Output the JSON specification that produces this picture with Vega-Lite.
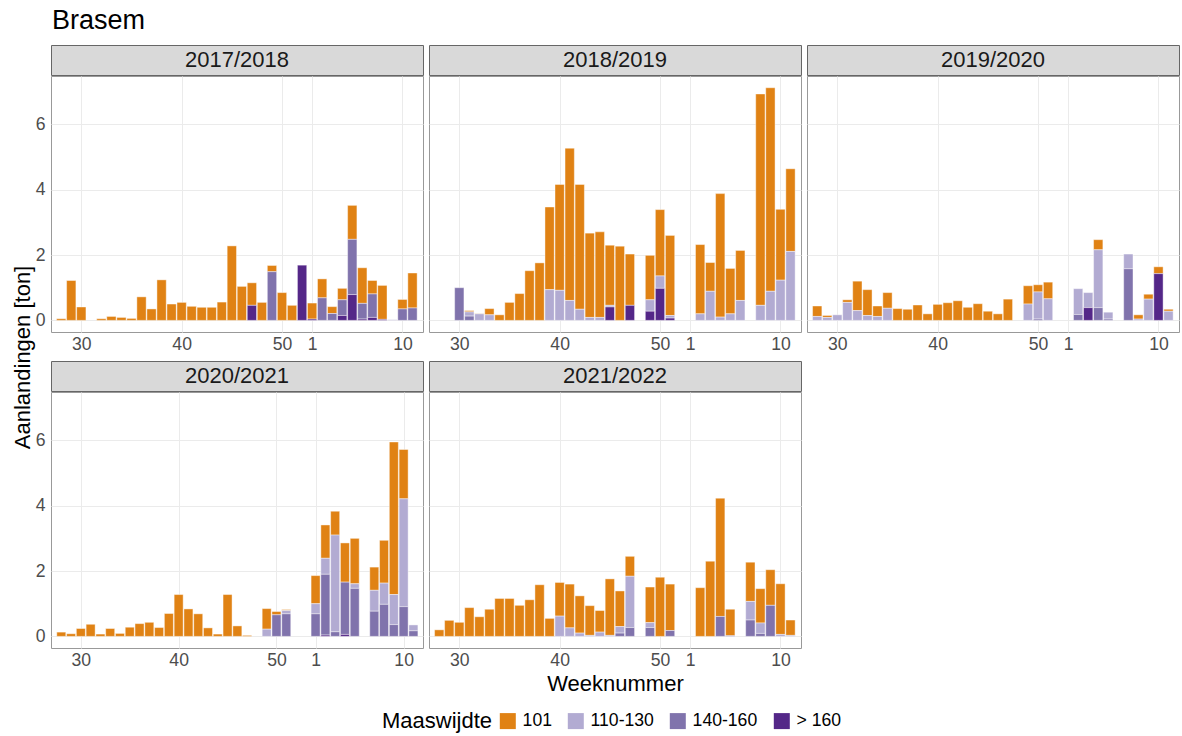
{
"$schema": "https://vega.github.io/schema/vega-lite/v6.json",
"background": "white",
"padding": {"left": 12, "top": 6, "right": 2, "bottom": 5},
"title": {"text": "Brasem", "anchor": "start", "fontSize": 27, "fontWeight": "normal", "color": "#000000", "offset": 10, "dx": 40},
"datasets": {"d": [
{"season":"2017/2018","week":28,"maas":"101","ton":0.05},
{"season":"2017/2018","week":29,"maas":"101","ton":1.22},
{"season":"2017/2018","week":30,"maas":"101","ton":0.41},
{"season":"2017/2018","week":32,"maas":"101","ton":0.05},
{"season":"2017/2018","week":33,"maas":"101","ton":0.12},
{"season":"2017/2018","week":34,"maas":"101","ton":0.09},
{"season":"2017/2018","week":35,"maas":"101","ton":0.06},
{"season":"2017/2018","week":36,"maas":"101","ton":0.72},
{"season":"2017/2018","week":37,"maas":"101","ton":0.35},
{"season":"2017/2018","week":38,"maas":"101","ton":1.24},
{"season":"2017/2018","week":39,"maas":"101","ton":0.50},
{"season":"2017/2018","week":40,"maas":"101","ton":0.55},
{"season":"2017/2018","week":41,"maas":"101","ton":0.43},
{"season":"2017/2018","week":42,"maas":"101","ton":0.40},
{"season":"2017/2018","week":43,"maas":"101","ton":0.40},
{"season":"2017/2018","week":44,"maas":"101","ton":0.56},
{"season":"2017/2018","week":45,"maas":"101","ton":2.28},
{"season":"2017/2018","week":46,"maas":"101","ton":1.04},
{"season":"2017/2018","week":47,"maas":"101","ton":0.69},
{"season":"2017/2018","week":47,"maas":"> 160","ton":0.46},
{"season":"2017/2018","week":48,"maas":"101","ton":0.55},
{"season":"2017/2018","week":49,"maas":"101","ton":0.19},
{"season":"2017/2018","week":49,"maas":"140-160","ton":1.49},
{"season":"2017/2018","week":50,"maas":"101","ton":0.85},
{"season":"2017/2018","week":51,"maas":"101","ton":0.46},
{"season":"2017/2018","week":52,"maas":"> 160","ton":1.69},
{"season":"2017/2018","week":1,"maas":"101","ton":0.49},
{"season":"2017/2018","week":1,"maas":"> 160","ton":0.04},
{"season":"2017/2018","week":2,"maas":"101","ton":0.58},
{"season":"2017/2018","week":2,"maas":"140-160","ton":0.69},
{"season":"2017/2018","week":3,"maas":"101","ton":0.21},
{"season":"2017/2018","week":3,"maas":"140-160","ton":0.21},
{"season":"2017/2018","week":4,"maas":"101","ton":0.35},
{"season":"2017/2018","week":4,"maas":"140-160","ton":0.48},
{"season":"2017/2018","week":4,"maas":"> 160","ton":0.15},
{"season":"2017/2018","week":5,"maas":"101","ton":1.04},
{"season":"2017/2018","week":5,"maas":"140-160","ton":1.69},
{"season":"2017/2018","week":5,"maas":"> 160","ton":0.79},
{"season":"2017/2018","week":6,"maas":"101","ton":1.09},
{"season":"2017/2018","week":6,"maas":"140-160","ton":0.48},
{"season":"2017/2018","week":6,"maas":"> 160","ton":0.04},
{"season":"2017/2018","week":7,"maas":"101","ton":0.41},
{"season":"2017/2018","week":7,"maas":"140-160","ton":0.72},
{"season":"2017/2018","week":7,"maas":"> 160","ton":0.09},
{"season":"2017/2018","week":8,"maas":"101","ton":1.04},
{"season":"2017/2018","week":8,"maas":"> 160","ton":0.03},
{"season":"2017/2018","week":9,"maas":"110-130","ton":0.02},
{"season":"2017/2018","week":10,"maas":"101","ton":0.29},
{"season":"2017/2018","week":10,"maas":"140-160","ton":0.35},
{"season":"2017/2018","week":11,"maas":"101","ton":1.07},
{"season":"2017/2018","week":11,"maas":"140-160","ton":0.38},
{"season":"2018/2019","week":30,"maas":"140-160","ton":1.00},
{"season":"2018/2019","week":31,"maas":"101","ton":0.04},
{"season":"2018/2019","week":31,"maas":"110-130","ton":0.13},
{"season":"2018/2019","week":31,"maas":"140-160","ton":0.13},
{"season":"2018/2019","week":32,"maas":"101","ton":0.01},
{"season":"2018/2019","week":32,"maas":"110-130","ton":0.20},
{"season":"2018/2019","week":33,"maas":"101","ton":0.19},
{"season":"2018/2019","week":33,"maas":"110-130","ton":0.17},
{"season":"2018/2019","week":34,"maas":"101","ton":0.17},
{"season":"2018/2019","week":35,"maas":"101","ton":0.55},
{"season":"2018/2019","week":36,"maas":"101","ton":0.82},
{"season":"2018/2019","week":37,"maas":"101","ton":1.52},
{"season":"2018/2019","week":38,"maas":"101","ton":1.76},
{"season":"2018/2019","week":39,"maas":"101","ton":2.53},
{"season":"2018/2019","week":39,"maas":"110-130","ton":0.94},
{"season":"2018/2019","week":40,"maas":"101","ton":3.24},
{"season":"2018/2019","week":40,"maas":"110-130","ton":0.92},
{"season":"2018/2019","week":41,"maas":"101","ton":4.66},
{"season":"2018/2019","week":41,"maas":"110-130","ton":0.61},
{"season":"2018/2019","week":42,"maas":"101","ton":3.82},
{"season":"2018/2019","week":42,"maas":"110-130","ton":0.34},
{"season":"2018/2019","week":43,"maas":"101","ton":2.58},
{"season":"2018/2019","week":43,"maas":"110-130","ton":0.09},
{"season":"2018/2019","week":44,"maas":"101","ton":2.62},
{"season":"2018/2019","week":44,"maas":"110-130","ton":0.09},
{"season":"2018/2019","week":45,"maas":"101","ton":1.84},
{"season":"2018/2019","week":45,"maas":"110-130","ton":0.05},
{"season":"2018/2019","week":45,"maas":"> 160","ton":0.41},
{"season":"2018/2019","week":46,"maas":"101","ton":2.27},
{"season":"2018/2019","week":47,"maas":"101","ton":1.57},
{"season":"2018/2019","week":47,"maas":"> 160","ton":0.46},
{"season":"2018/2019","week":49,"maas":"101","ton":1.36},
{"season":"2018/2019","week":49,"maas":"110-130","ton":0.35},
{"season":"2018/2019","week":49,"maas":"> 160","ton":0.28},
{"season":"2018/2019","week":50,"maas":"101","ton":2.03},
{"season":"2018/2019","week":50,"maas":"110-130","ton":0.38},
{"season":"2018/2019","week":50,"maas":"> 160","ton":0.98},
{"season":"2018/2019","week":51,"maas":"101","ton":2.45},
{"season":"2018/2019","week":51,"maas":"110-130","ton":0.08},
{"season":"2018/2019","week":51,"maas":"> 160","ton":0.07},
{"season":"2018/2019","week":2,"maas":"101","ton":2.12},
{"season":"2018/2019","week":2,"maas":"110-130","ton":0.20},
{"season":"2018/2019","week":3,"maas":"101","ton":0.88},
{"season":"2018/2019","week":3,"maas":"110-130","ton":0.89},
{"season":"2018/2019","week":4,"maas":"101","ton":3.78},
{"season":"2018/2019","week":4,"maas":"110-130","ton":0.10},
{"season":"2018/2019","week":5,"maas":"101","ton":1.39},
{"season":"2018/2019","week":5,"maas":"110-130","ton":0.20},
{"season":"2018/2019","week":6,"maas":"101","ton":1.53},
{"season":"2018/2019","week":6,"maas":"110-130","ton":0.61},
{"season":"2018/2019","week":8,"maas":"101","ton":6.47},
{"season":"2018/2019","week":8,"maas":"110-130","ton":0.46},
{"season":"2018/2019","week":9,"maas":"101","ton":6.23},
{"season":"2018/2019","week":9,"maas":"110-130","ton":0.89},
{"season":"2018/2019","week":10,"maas":"101","ton":2.17},
{"season":"2018/2019","week":10,"maas":"110-130","ton":1.23},
{"season":"2018/2019","week":11,"maas":"101","ton":2.53},
{"season":"2018/2019","week":11,"maas":"110-130","ton":2.11},
{"season":"2019/2020","week":28,"maas":"101","ton":0.32},
{"season":"2019/2020","week":28,"maas":"110-130","ton":0.12},
{"season":"2019/2020","week":29,"maas":"101","ton":0.06},
{"season":"2019/2020","week":29,"maas":"110-130","ton":0.09},
{"season":"2019/2020","week":30,"maas":"110-130","ton":0.17},
{"season":"2019/2020","week":31,"maas":"101","ton":0.08},
{"season":"2019/2020","week":31,"maas":"110-130","ton":0.55},
{"season":"2019/2020","week":32,"maas":"101","ton":0.90},
{"season":"2019/2020","week":32,"maas":"110-130","ton":0.30},
{"season":"2019/2020","week":33,"maas":"101","ton":0.79},
{"season":"2019/2020","week":33,"maas":"110-130","ton":0.15},
{"season":"2019/2020","week":34,"maas":"101","ton":0.32},
{"season":"2019/2020","week":34,"maas":"110-130","ton":0.12},
{"season":"2019/2020","week":35,"maas":"101","ton":0.48},
{"season":"2019/2020","week":35,"maas":"110-130","ton":0.37},
{"season":"2019/2020","week":36,"maas":"101","ton":0.36},
{"season":"2019/2020","week":37,"maas":"101","ton":0.34},
{"season":"2019/2020","week":38,"maas":"101","ton":0.47},
{"season":"2019/2020","week":39,"maas":"101","ton":0.20},
{"season":"2019/2020","week":40,"maas":"101","ton":0.49},
{"season":"2019/2020","week":41,"maas":"101","ton":0.54},
{"season":"2019/2020","week":42,"maas":"101","ton":0.60},
{"season":"2019/2020","week":43,"maas":"101","ton":0.40},
{"season":"2019/2020","week":44,"maas":"101","ton":0.51},
{"season":"2019/2020","week":45,"maas":"101","ton":0.28},
{"season":"2019/2020","week":46,"maas":"101","ton":0.20},
{"season":"2019/2020","week":47,"maas":"101","ton":0.65},
{"season":"2019/2020","week":49,"maas":"101","ton":0.56},
{"season":"2019/2020","week":49,"maas":"110-130","ton":0.50},
{"season":"2019/2020","week":50,"maas":"101","ton":0.22},
{"season":"2019/2020","week":50,"maas":"110-130","ton":0.83},
{"season":"2019/2020","week":50,"maas":"140-160","ton":0.04},
{"season":"2019/2020","week":51,"maas":"101","ton":0.51},
{"season":"2019/2020","week":51,"maas":"110-130","ton":0.66},
{"season":"2019/2020","week":2,"maas":"110-130","ton":0.79},
{"season":"2019/2020","week":2,"maas":"140-160","ton":0.18},
{"season":"2019/2020","week":3,"maas":"110-130","ton":0.46},
{"season":"2019/2020","week":3,"maas":"> 160","ton":0.39},
{"season":"2019/2020","week":4,"maas":"101","ton":0.31},
{"season":"2019/2020","week":4,"maas":"110-130","ton":1.77},
{"season":"2019/2020","week":4,"maas":"140-160","ton":0.39},
{"season":"2019/2020","week":5,"maas":"110-130","ton":0.21},
{"season":"2019/2020","week":5,"maas":"140-160","ton":0.04},
{"season":"2019/2020","week":7,"maas":"110-130","ton":0.45},
{"season":"2019/2020","week":7,"maas":"140-160","ton":1.58},
{"season":"2019/2020","week":8,"maas":"101","ton":0.13},
{"season":"2019/2020","week":8,"maas":"110-130","ton":0.04},
{"season":"2019/2020","week":9,"maas":"101","ton":0.15},
{"season":"2019/2020","week":9,"maas":"110-130","ton":0.65},
{"season":"2019/2020","week":10,"maas":"101","ton":0.21},
{"season":"2019/2020","week":10,"maas":"> 160","ton":1.43},
{"season":"2019/2020","week":11,"maas":"101","ton":0.06},
{"season":"2019/2020","week":11,"maas":"110-130","ton":0.28},
{"season":"2020/2021","week":28,"maas":"101","ton":0.13},
{"season":"2020/2021","week":29,"maas":"101","ton":0.08},
{"season":"2020/2021","week":30,"maas":"101","ton":0.24},
{"season":"2020/2021","week":31,"maas":"101","ton":0.37},
{"season":"2020/2021","week":32,"maas":"101","ton":0.07},
{"season":"2020/2021","week":33,"maas":"101","ton":0.24},
{"season":"2020/2021","week":34,"maas":"101","ton":0.09},
{"season":"2020/2021","week":35,"maas":"101","ton":0.28},
{"season":"2020/2021","week":36,"maas":"101","ton":0.39},
{"season":"2020/2021","week":37,"maas":"101","ton":0.43},
{"season":"2020/2021","week":38,"maas":"101","ton":0.27},
{"season":"2020/2021","week":39,"maas":"101","ton":0.70},
{"season":"2020/2021","week":40,"maas":"101","ton":1.28},
{"season":"2020/2021","week":41,"maas":"101","ton":0.84},
{"season":"2020/2021","week":42,"maas":"101","ton":0.69},
{"season":"2020/2021","week":43,"maas":"101","ton":0.26},
{"season":"2020/2021","week":44,"maas":"101","ton":0.07},
{"season":"2020/2021","week":45,"maas":"101","ton":1.28},
{"season":"2020/2021","week":46,"maas":"101","ton":0.32},
{"season":"2020/2021","week":47,"maas":"101","ton":0.03},
{"season":"2020/2021","week":49,"maas":"101","ton":0.63},
{"season":"2020/2021","week":49,"maas":"110-130","ton":0.22},
{"season":"2020/2021","week":50,"maas":"101","ton":0.10},
{"season":"2020/2021","week":50,"maas":"140-160","ton":0.66},
{"season":"2020/2021","week":51,"maas":"101","ton":0.03},
{"season":"2020/2021","week":51,"maas":"110-130","ton":0.10},
{"season":"2020/2021","week":51,"maas":"140-160","ton":0.69},
{"season":"2020/2021","week":1,"maas":"101","ton":0.86},
{"season":"2020/2021","week":1,"maas":"110-130","ton":0.31},
{"season":"2020/2021","week":1,"maas":"140-160","ton":0.69},
{"season":"2020/2021","week":2,"maas":"101","ton":1.02},
{"season":"2020/2021","week":2,"maas":"110-130","ton":0.49},
{"season":"2020/2021","week":2,"maas":"140-160","ton":1.86},
{"season":"2020/2021","week":2,"maas":"> 160","ton":0.04},
{"season":"2020/2021","week":3,"maas":"101","ton":0.73},
{"season":"2020/2021","week":3,"maas":"110-130","ton":2.96},
{"season":"2020/2021","week":3,"maas":"140-160","ton":0.14},
{"season":"2020/2021","week":4,"maas":"101","ton":1.20},
{"season":"2020/2021","week":4,"maas":"140-160","ton":1.60},
{"season":"2020/2021","week":4,"maas":"> 160","ton":0.06},
{"season":"2020/2021","week":5,"maas":"101","ton":1.39},
{"season":"2020/2021","week":5,"maas":"110-130","ton":0.14},
{"season":"2020/2021","week":5,"maas":"140-160","ton":1.47},
{"season":"2020/2021","week":7,"maas":"101","ton":0.71},
{"season":"2020/2021","week":7,"maas":"110-130","ton":0.64},
{"season":"2020/2021","week":7,"maas":"140-160","ton":0.77},
{"season":"2020/2021","week":8,"maas":"101","ton":1.31},
{"season":"2020/2021","week":8,"maas":"110-130","ton":0.65},
{"season":"2020/2021","week":8,"maas":"140-160","ton":0.98},
{"season":"2020/2021","week":9,"maas":"101","ton":4.67},
{"season":"2020/2021","week":9,"maas":"110-130","ton":0.92},
{"season":"2020/2021","week":9,"maas":"140-160","ton":0.36},
{"season":"2020/2021","week":10,"maas":"101","ton":1.51},
{"season":"2020/2021","week":10,"maas":"110-130","ton":3.30},
{"season":"2020/2021","week":10,"maas":"140-160","ton":0.91},
{"season":"2020/2021","week":11,"maas":"110-130","ton":0.18},
{"season":"2020/2021","week":11,"maas":"140-160","ton":0.17},
{"season":"2021/2022","week":28,"maas":"101","ton":0.20},
{"season":"2021/2022","week":29,"maas":"101","ton":0.49},
{"season":"2021/2022","week":30,"maas":"101","ton":0.43},
{"season":"2021/2022","week":31,"maas":"101","ton":0.88},
{"season":"2021/2022","week":32,"maas":"101","ton":0.60},
{"season":"2021/2022","week":33,"maas":"101","ton":0.83},
{"season":"2021/2022","week":34,"maas":"101","ton":1.16},
{"season":"2021/2022","week":35,"maas":"101","ton":1.16},
{"season":"2021/2022","week":36,"maas":"101","ton":0.95},
{"season":"2021/2022","week":37,"maas":"101","ton":1.12},
{"season":"2021/2022","week":38,"maas":"101","ton":1.58},
{"season":"2021/2022","week":39,"maas":"101","ton":0.55},
{"season":"2021/2022","week":40,"maas":"101","ton":1.03},
{"season":"2021/2022","week":40,"maas":"110-130","ton":0.62},
{"season":"2021/2022","week":41,"maas":"101","ton":1.34},
{"season":"2021/2022","week":41,"maas":"110-130","ton":0.26},
{"season":"2021/2022","week":42,"maas":"101","ton":1.14},
{"season":"2021/2022","week":42,"maas":"110-130","ton":0.10},
{"season":"2021/2022","week":43,"maas":"101","ton":0.91},
{"season":"2021/2022","week":43,"maas":"110-130","ton":0.03},
{"season":"2021/2022","week":44,"maas":"101","ton":0.66},
{"season":"2021/2022","week":44,"maas":"110-130","ton":0.13},
{"season":"2021/2022","week":45,"maas":"101","ton":1.73},
{"season":"2021/2022","week":45,"maas":"110-130","ton":0.03},
{"season":"2021/2022","week":46,"maas":"101","ton":1.09},
{"season":"2021/2022","week":46,"maas":"110-130","ton":0.20},
{"season":"2021/2022","week":46,"maas":"140-160","ton":0.10},
{"season":"2021/2022","week":47,"maas":"101","ton":0.61},
{"season":"2021/2022","week":47,"maas":"110-130","ton":1.57},
{"season":"2021/2022","week":47,"maas":"140-160","ton":0.27},
{"season":"2021/2022","week":49,"maas":"101","ton":1.09},
{"season":"2021/2022","week":49,"maas":"110-130","ton":0.15},
{"season":"2021/2022","week":49,"maas":"140-160","ton":0.27},
{"season":"2021/2022","week":50,"maas":"101","ton":1.81},
{"season":"2021/2022","week":51,"maas":"101","ton":1.42},
{"season":"2021/2022","week":51,"maas":"140-160","ton":0.18},
{"season":"2021/2022","week":2,"maas":"101","ton":1.49},
{"season":"2021/2022","week":3,"maas":"101","ton":2.30},
{"season":"2021/2022","week":4,"maas":"101","ton":3.62},
{"season":"2021/2022","week":4,"maas":"140-160","ton":0.61},
{"season":"2021/2022","week":5,"maas":"101","ton":0.81},
{"season":"2021/2022","week":5,"maas":"140-160","ton":0.02},
{"season":"2021/2022","week":7,"maas":"101","ton":1.20},
{"season":"2021/2022","week":7,"maas":"110-130","ton":0.57},
{"season":"2021/2022","week":7,"maas":"140-160","ton":0.50},
{"season":"2021/2022","week":8,"maas":"101","ton":1.05},
{"season":"2021/2022","week":8,"maas":"110-130","ton":0.32},
{"season":"2021/2022","week":8,"maas":"140-160","ton":0.09},
{"season":"2021/2022","week":9,"maas":"101","ton":1.09},
{"season":"2021/2022","week":9,"maas":"140-160","ton":0.95},
{"season":"2021/2022","week":10,"maas":"101","ton":1.55},
{"season":"2021/2022","week":10,"maas":"110-130","ton":0.06},
{"season":"2021/2022","week":11,"maas":"101","ton":0.47},
{"season":"2021/2022","week":11,"maas":"110-130","ton":0.03}
]},
"spacing": 0,
"hconcat": [
 {"width": 22, "height": 625, "data": {"values": [{"t": "Aanlandingen [ton]"}]}, "view": {"stroke": null}, "mark": {"type": "text", "angle": 270, "fontSize": 22, "color": "#000000", "baseline": "middle", "align": "center"}, "encoding": {"text": {"field": "t"}}},
 {"spacing": 6, "vconcat": [
 {"spacing": 4, "hconcat": [
  {"spacing": -2, "vconcat": [
   {"width": 372, "height": 30, "data": {"values": [{"season": "2017/2018"}]}, "view": {"fill": "#D9D9D9", "stroke": "#666666"}, "mark": {"type": "text", "fontSize": 22, "color": "#1A1A1A", "baseline": "middle", "align": "center"}, "encoding": {"text": {"field": "season"}}},
   {"width": 372, "height": 256, "data": {"name": "d"},
    "transform": [{"filter": "datum.season == '2017/2018'"}, {"calculate": "datum.week >= 26 ? datum.week : datum.week + 52", "as": "idx"}, {"calculate": "indexof(['> 160','140-160','110-130','101'], datum.maas)", "as": "rank"}],
    "mark": {"type": "bar", "width": 9.3, "stroke": "white", "strokeWidth": 0.7, "strokeOpacity": 0.6},
    "encoding": {
     "x": {"field": "idx", "type": "quantitative", "scale": {"domain": [27.48, 63.55], "nice": false, "zero": false}, "axis": {"values": [30, 40, 50, 53, 62], "labelExpr": "datum.value > 52 ? datum.value - 52 : datum.value", "title": null}},
     "y": {"field": "ton", "type": "quantitative", "stack": "zero", "scale": {"domain": [-0.356, 7.48], "nice": false, "zero": false}, "axis": {"values": [0, 2, 4, 6], "title": null}},
     "color": {"field": "maas", "type": "nominal", "scale": {"domain": ["101", "110-130", "140-160", "> 160"], "range": ["#E08214", "#B2ABD2", "#8073AC", "#542788"]}, "legend": {"title": "Maaswijdte"}},
     "order": {"field": "rank", "type": "quantitative", "sort": "ascending"}
    }}
  ]},
  {"spacing": -2, "vconcat": [
   {"width": 372, "height": 30, "data": {"values": [{"season": "2018/2019"}]}, "view": {"fill": "#D9D9D9", "stroke": "#666666"}, "mark": {"type": "text", "fontSize": 22, "color": "#1A1A1A", "baseline": "middle", "align": "center"}, "encoding": {"text": {"field": "season"}}},
   {"width": 372, "height": 256, "data": {"name": "d"},
    "transform": [{"filter": "datum.season == '2018/2019'"}, {"calculate": "datum.week >= 26 ? datum.week : datum.week + 52", "as": "idx"}, {"calculate": "indexof(['> 160','140-160','110-130','101'], datum.maas)", "as": "rank"}],
    "mark": {"type": "bar", "width": 9.3, "stroke": "white", "strokeWidth": 0.7, "strokeOpacity": 0.6},
    "encoding": {
     "x": {"field": "idx", "type": "quantitative", "scale": {"domain": [27.48, 63.55], "nice": false, "zero": false}, "axis": {"values": [30, 40, 50, 53, 62], "labelExpr": "datum.value > 52 ? datum.value - 52 : datum.value", "title": null}},
     "y": {"field": "ton", "type": "quantitative", "stack": "zero", "scale": {"domain": [-0.356, 7.48], "nice": false, "zero": false}, "axis": {"values": [0, 2, 4, 6], "labels": false, "title": null}},
     "color": {"field": "maas", "type": "nominal", "scale": {"domain": ["101", "110-130", "140-160", "> 160"], "range": ["#E08214", "#B2ABD2", "#8073AC", "#542788"]}, "legend": {"title": "Maaswijdte"}},
     "order": {"field": "rank", "type": "quantitative", "sort": "ascending"}
    }}
  ]},
  {"spacing": -2, "vconcat": [
   {"width": 372, "height": 30, "data": {"values": [{"season": "2019/2020"}]}, "view": {"fill": "#D9D9D9", "stroke": "#666666"}, "mark": {"type": "text", "fontSize": 22, "color": "#1A1A1A", "baseline": "middle", "align": "center"}, "encoding": {"text": {"field": "season"}}},
   {"width": 372, "height": 256, "data": {"name": "d"},
    "transform": [{"filter": "datum.season == '2019/2020'"}, {"calculate": "datum.week >= 26 ? datum.week : datum.week + 52", "as": "idx"}, {"calculate": "indexof(['> 160','140-160','110-130','101'], datum.maas)", "as": "rank"}],
    "mark": {"type": "bar", "width": 9.3, "stroke": "white", "strokeWidth": 0.7, "strokeOpacity": 0.6},
    "encoding": {
     "x": {"field": "idx", "type": "quantitative", "scale": {"domain": [27.48, 63.55], "nice": false, "zero": false}, "axis": {"values": [30, 40, 50, 53, 62], "labelExpr": "datum.value > 52 ? datum.value - 52 : datum.value", "title": null}},
     "y": {"field": "ton", "type": "quantitative", "stack": "zero", "scale": {"domain": [-0.356, 7.48], "nice": false, "zero": false}, "axis": {"values": [0, 2, 4, 6], "labels": false, "title": null}},
     "color": {"field": "maas", "type": "nominal", "scale": {"domain": ["101", "110-130", "140-160", "> 160"], "range": ["#E08214", "#B2ABD2", "#8073AC", "#542788"]}, "legend": {"title": "Maaswijdte"}},
     "order": {"field": "rank", "type": "quantitative", "sort": "ascending"}
    }}
  ]}
 ]},
 {"spacing": 4, "hconcat": [
  {"spacing": -2, "vconcat": [
   {"width": 372, "height": 30, "data": {"values": [{"season": "2020/2021"}]}, "view": {"fill": "#D9D9D9", "stroke": "#666666"}, "mark": {"type": "text", "fontSize": 22, "color": "#1A1A1A", "baseline": "middle", "align": "center"}, "encoding": {"text": {"field": "season"}}},
   {"width": 372, "height": 256, "data": {"name": "d"},
    "transform": [{"filter": "datum.season == '2020/2021'"}, {"calculate": "datum.week >= 26 ? datum.week : datum.week + 53", "as": "idx"}, {"calculate": "indexof(['> 160','140-160','110-130','101'], datum.maas)", "as": "rank"}],
    "mark": {"type": "bar", "width": 9.0, "stroke": "white", "strokeWidth": 0.7, "strokeOpacity": 0.6},
    "encoding": {
     "x": {"field": "idx", "type": "quantitative", "scale": {"domain": [27.46, 64.47], "nice": false, "zero": false}, "axis": {"values": [30, 40, 50, 54, 63], "labelExpr": "datum.value > 53 ? datum.value - 53 : datum.value", "title": null}},
     "y": {"field": "ton", "type": "quantitative", "stack": "zero", "scale": {"domain": [-0.356, 7.48], "nice": false, "zero": false}, "axis": {"values": [0, 2, 4, 6], "title": null}},
     "color": {"field": "maas", "type": "nominal", "scale": {"domain": ["101", "110-130", "140-160", "> 160"], "range": ["#E08214", "#B2ABD2", "#8073AC", "#542788"]}, "legend": {"title": "Maaswijdte"}},
     "order": {"field": "rank", "type": "quantitative", "sort": "ascending"}
    }}
  ]},
  {"spacing": -2, "vconcat": [
   {"width": 372, "height": 30, "data": {"values": [{"season": "2021/2022"}]}, "view": {"fill": "#D9D9D9", "stroke": "#666666"}, "mark": {"type": "text", "fontSize": 22, "color": "#1A1A1A", "baseline": "middle", "align": "center"}, "encoding": {"text": {"field": "season"}}},
   {"width": 372, "height": 256, "data": {"name": "d"},
    "transform": [{"filter": "datum.season == '2021/2022'"}, {"calculate": "datum.week >= 26 ? datum.week : datum.week + 52", "as": "idx"}, {"calculate": "indexof(['> 160','140-160','110-130','101'], datum.maas)", "as": "rank"}],
    "mark": {"type": "bar", "width": 9.3, "stroke": "white", "strokeWidth": 0.7, "strokeOpacity": 0.6},
    "encoding": {
     "x": {"field": "idx", "type": "quantitative", "scale": {"domain": [27.48, 63.55], "nice": false, "zero": false}, "axis": {"values": [30, 40, 50, 53, 62], "labelExpr": "datum.value > 52 ? datum.value - 52 : datum.value", "title": "Weeknummer", "titlePadding": 5}},
     "y": {"field": "ton", "type": "quantitative", "stack": "zero", "scale": {"domain": [-0.356, 7.48], "nice": false, "zero": false}, "axis": {"values": [0, 2, 4, 6], "labels": false, "title": null}},
     "color": {"field": "maas", "type": "nominal", "scale": {"domain": ["101", "110-130", "140-160", "> 160"], "range": ["#E08214", "#B2ABD2", "#8073AC", "#542788"]}, "legend": {"title": "Maaswijdte", "orient": "none", "legendX": 370, "legendY": 667}},
     "order": {"field": "rank", "type": "quantitative", "sort": "ascending"}
    }}
  ]}
 ]}
 ]}
],
"config": {
 "font": "Liberation Sans",
 "view": {"stroke": "#999999", "strokeWidth": 1},
 "axis": {"grid": true, "gridColor": "#EBEBEB", "gridWidth": 1, "domain": false, "ticks": false, "labelFontSize": 17.6, "labelColor": "#4D4D4D", "titleFontSize": 22, "titleFontWeight": "normal", "titleColor": "#000000"},
 "axisX": {"labelPadding": 3},
 "axisY": {"labelPadding": 6},
 "legend": {"orient": "none", "direction": "horizontal", "titleOrient": "left", "titleFontSize": 22, "titleFontWeight": "normal", "titleColor": "#000000", "labelFontSize": 17.6, "labelColor": "#000000", "symbolType": "square", "symbolSize": 256, "symbolStrokeWidth": 0, "symbolOpacity": 1, "columnPadding": 15, "labelOffset": 6, "titlePadding": 6}
}
}
